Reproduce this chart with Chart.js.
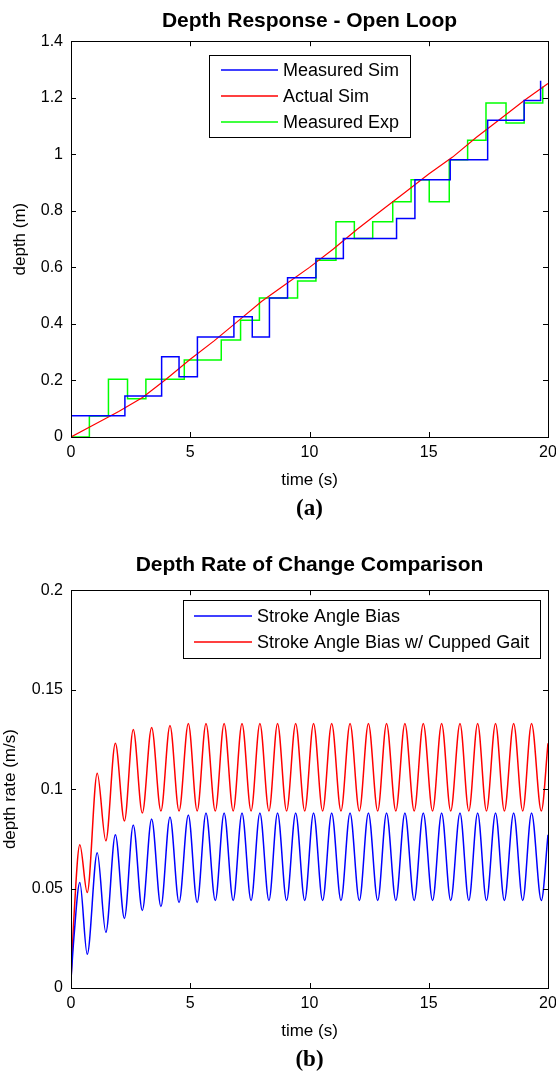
<!DOCTYPE html>
<html lang="en">
<head>
  <meta charset="UTF-8">
  <title>Depth Response / Depth Rate of Change</title>
  <script src="https://cdn.jsdelivr.net/npm/chart.js"></script>
  <style>
    html, body { margin: 0; padding: 0; background: #fff; overflow: hidden; }
    canvas { position: absolute; left: 0; }
    #chartA { top: 0; }
    #chartB { top: 524px; }
  </style>
</head>
<body>
  <canvas id="chartA" width="556" height="521"></canvas>
  <canvas id="chartB" width="556" height="548"></canvas>
  <script>
    // (a) depth response, step data: value holds from t until the next t
    const measSimT = [0, 2.26, 3.80, 4.53, 5.30, 6.83, 7.60, 8.32, 9.08, 10.27, 11.42, 13.65, 14.42, 15.90, 17.47, 19.00, 19.69];
    const measSimV = [0.075, 0.145, 0.284, 0.213, 0.354, 0.425, 0.354, 0.492, 0.563, 0.631, 0.702, 0.773, 0.910, 0.981, 1.120, 1.190, 1.260];
    const measExpT = [0, 0.77, 1.57, 2.37, 3.14, 4.75, 6.30, 7.11, 7.90, 9.50, 10.27, 11.11, 11.88, 12.65, 13.49, 14.26, 15.02, 15.86, 16.63, 17.40, 18.24, 19.00, 19.78];
    const measExpV = [0, 0.074, 0.204, 0.135, 0.204, 0.272, 0.343, 0.413, 0.492, 0.552, 0.625, 0.761, 0.702, 0.761, 0.832, 0.910, 0.832, 0.981, 1.050, 1.181, 1.111, 1.181, 1.240];
    const actualT = [0, 1, 2, 3, 4, 5, 6, 7, 8, 9, 10, 11, 12, 13, 14, 15, 16, 17, 18, 19, 20];
    const actualV = [0, 0.045, 0.09, 0.14, 0.205, 0.275, 0.34, 0.41, 0.48, 0.54, 0.60, 0.665, 0.735, 0.80, 0.865, 0.93, 0.99, 1.06, 1.125, 1.19, 1.25];

    // (b) depth rate, read at start, each peak / trough, and end
    const rateT = [0, 0.12, 0.37, 0.68, 1.10, 1.46, 1.86, 2.24, 2.61, 2.99, 3.38, 3.77, 4.15, 4.53, 4.92, 5.29,
      5.66, 6.05, 6.42, 6.80, 7.17, 7.55, 7.92, 8.30, 8.66, 9.04, 9.42, 9.80, 10.17, 10.55, 10.93, 11.32,
      11.70, 12.09, 12.47, 12.86, 13.23, 13.62, 14.00, 14.39, 14.77, 15.16, 15.54, 15.92, 16.31, 16.68,
      17.05, 17.42, 17.80, 18.17, 18.56, 18.94, 19.31, 19.72, 20];
    const biasRate = [0.004, 0.025, 0.053, 0.017, 0.068, 0.028, 0.077, 0.035, 0.082, 0.039, 0.085, 0.041, 0.086, 0.043, 0.087, 0.043,
      0.088, 0.044, 0.088, 0.044, 0.088, 0.044, 0.088, 0.044, 0.088, 0.044, 0.088, 0.044, 0.088, 0.044, 0.088, 0.044,
      0.088, 0.044, 0.088, 0.044, 0.088, 0.044, 0.088, 0.044, 0.088, 0.044, 0.088, 0.044, 0.088, 0.044,
      0.088, 0.044, 0.088, 0.044, 0.088, 0.044, 0.088, 0.044, 0.077];
    const cuppedRate = [0.004, 0.035, 0.072, 0.048, 0.108, 0.074, 0.123, 0.084, 0.130, 0.088, 0.131, 0.089, 0.132, 0.089, 0.133, 0.089,
      0.133, 0.089, 0.133, 0.089, 0.133, 0.089, 0.133, 0.089, 0.133, 0.089, 0.133, 0.089, 0.133, 0.089, 0.133, 0.089,
      0.133, 0.089, 0.133, 0.089, 0.133, 0.089, 0.133, 0.089, 0.133, 0.089, 0.133, 0.089, 0.133, 0.089,
      0.133, 0.089, 0.133, 0.089, 0.133, 0.089, 0.133, 0.089, 0.123];

    const sans = "'Liberation Sans', Arial, sans-serif";
    const serif = "'Liberation Serif', 'Times New Roman', serif";
    const pts = (ts, vs) => ts.map((t, i) => ({ x: t, y: vs[i] }));

    // MATLAB style box with inward tick marks on all four sides
    const axesBox = {
      id: 'axesBox',
      afterDatasetsDraw(chart) {
        const { ctx, chartArea: a, scales: { x, y } } = chart;
        ctx.save();
        ctx.strokeStyle = '#000';
        ctx.lineWidth = 1;
        ctx.beginPath();
        x.ticks.forEach(t => {
          const px = Math.round(x.getPixelForValue(t.value)) + 0.5;
          ctx.moveTo(px, a.bottom); ctx.lineTo(px, a.bottom - 5);
          ctx.moveTo(px, a.top); ctx.lineTo(px, a.top + 5);
        });
        y.ticks.forEach(t => {
          const py = Math.round(y.getPixelForValue(t.value)) + 0.5;
          ctx.moveTo(a.left, py); ctx.lineTo(a.left + 5, py);
          ctx.moveTo(a.right, py); ctx.lineTo(a.right - 5, py);
        });
        ctx.stroke();
        ctx.strokeRect(Math.round(a.left) + 0.5, Math.round(a.top) + 0.5,
          Math.round(a.right - a.left), Math.round(a.bottom - a.top));
        ctx.restore();
      }
    };

    // boxed legend inside the axes
    const boxLegend = {
      id: 'boxLegend',
      afterDraw(chart, args, o) {
        const { ctx, chartArea: a } = chart;
        const sets = chart.data.datasets;
        ctx.save();
        ctx.font = '18px ' + sans;
        const textW = Math.max(...sets.map(d => ctx.measureText(d.label).width));
        const w = Math.round(o.padLeft + o.lineLen + o.gap + textW + o.padRight);
        const h = o.padTop * 2 + o.rowGap * (sets.length - 1);
        const left = Math.round(o.align === 'center' ? (a.left + a.right - w) / 2 : a.right - o.right - w);
        const top = Math.round(a.top + o.top);
        ctx.fillStyle = '#fff';
        ctx.fillRect(left, top, w, h);
        ctx.strokeStyle = '#000';
        ctx.lineWidth = 1;
        ctx.strokeRect(left + 0.5, top + 0.5, w, h);
        sets.forEach((d, i) => {
          const ry = top + o.padTop + i * o.rowGap;
          ctx.strokeStyle = d.borderColor;
          ctx.lineWidth = 1.5;
          ctx.beginPath();
          ctx.moveTo(left + o.padLeft, ry);
          ctx.lineTo(left + o.padLeft + o.lineLen, ry);
          ctx.stroke();
          ctx.fillStyle = '#000';
          ctx.textBaseline = 'middle';
          ctx.fillText(d.label, left + o.padLeft + o.lineLen + o.gap, ry + 1);
        });
        ctx.restore();
      }
    };

    function chartOptions(cfg) {
      return {
        responsive: false,
        animation: false,
        events: [],
        layout: { padding: 0 },
        scales: {
          x: {
            type: 'linear', min: 0, max: 20,
            ticks: { stepSize: 5, padding: 6, color: '#000', font: { family: sans, size: 16 } },
            grid: { display: false, drawTicks: false },
            border: { display: false },
            title: { display: true, text: 'time (s)', color: '#000', font: { family: sans, size: 17 }, padding: 0 },
            afterFit: s => { s.height = 54; s.paddingLeft = 0; s.paddingRight = 8; }
          },
          y: {
            min: 0, max: cfg.yMax,
            ticks: {
              stepSize: cfg.yStep, padding: 8, color: '#000', font: { family: sans, size: 16 },
              callback: v => String(+v.toFixed(2))
            },
            grid: { display: false, drawTicks: false },
            border: { display: false },
            title: {
              display: true, text: cfg.yTitle, color: '#000', font: { family: sans, size: 17 },
              padding: { top: cfg.yTitlePad, bottom: 0 }
            },
            afterFit: s => { s.width = 71; }
          }
        },
        plugins: {
          legend: { display: false },
          tooltip: { enabled: false },
          title: {
            display: true, text: cfg.title, fullSize: false, color: '#000',
            font: { family: sans, size: 21, weight: 'bold', lineHeight: 1.2 },
            padding: { top: cfg.titleTop, bottom: cfg.titleBottom }
          },
          subtitle: {
            display: true, position: 'bottom', text: cfg.sub, fullSize: false, color: '#000',
            font: { family: serif, size: 23, weight: 'bold', lineHeight: 1 },
            padding: { top: 7, bottom: 0 }
          },
          boxLegend: cfg.legend
        }
      };
    }

    new Chart(document.getElementById('chartA'), {
      type: 'line',
      data: {
        datasets: [
          { label: 'Measured Sim', data: pts(measSimT, measSimV), stepped: true, borderColor: '#0000ff', borderWidth: 1.5, pointRadius: 0, fill: false },
          { label: 'Actual Sim', data: pts(actualT, actualV), borderColor: '#ff0000', borderWidth: 1.2, pointRadius: 0, fill: false },
          { label: 'Measured Exp', data: pts(measExpT, measExpV), stepped: true, borderColor: '#00ff00', borderWidth: 1.5, pointRadius: 0, fill: false }
        ]
      },
      options: chartOptions({
        title: 'Depth Response - Open Loop', sub: '(a)',
        yMax: 1.4, yStep: 0.2, yTitle: 'depth (m)', yTitlePad: 10,
        titleTop: 9, titleBottom: 7,
        legend: { align: 'center', top: 14, right: 0, padLeft: 12, lineLen: 57, gap: 5, padRight: 11, padTop: 15, rowGap: 26 }
      }),
      plugins: [axesBox, boxLegend]
    });

    new Chart(document.getElementById('chartB'), {
      type: 'line',
      data: {
        datasets: [
          { label: 'Stroke Angle Bias', data: pts(rateT, biasRate), borderColor: '#0000ff', borderWidth: 1.5, pointRadius: 0, fill: false, cubicInterpolationMode: 'monotone' },
          { label: 'Stroke Angle Bias w/ Cupped Gait', data: pts(rateT, cuppedRate), borderColor: '#ff0000', borderWidth: 1.5, pointRadius: 0, fill: false, cubicInterpolationMode: 'monotone' }
        ]
      },
      options: chartOptions({
        title: 'Depth Rate of Change Comparison', sub: '(b)',
        yMax: 0.2, yStep: 0.05, yTitle: 'depth rate (m/s)', yTitlePad: 0,
        titleTop: 29, titleBottom: 12,
        legend: { align: 'right', top: 10, right: 8, padLeft: 11, lineLen: 58, gap: 5, padRight: 11, padTop: 16, rowGap: 26 }
      }),
      plugins: [axesBox, boxLegend]
    });
  </script>
</body>
</html>
